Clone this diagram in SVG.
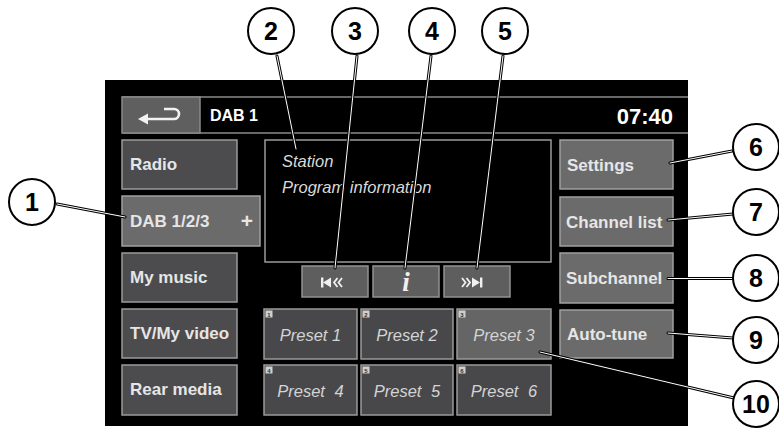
<svg xmlns="http://www.w3.org/2000/svg" width="779" height="429" viewBox="0 0 779 429">
<defs>
<style>
.btn{fill:#4c4c4e;stroke:#9a9a9a;stroke-width:1.5}
.btnl{fill:#6b6b6b;stroke:#a0a0a0;stroke-width:1.5}
.tb{fill:#5e5e5e;stroke:#929292;stroke-width:1.5}
.pre{fill:#48484b;stroke:#9a9a9a;stroke-width:1.5}
.lbl{font-family:"Liberation Sans",Arial,sans-serif;font-weight:bold;font-size:17px;fill:#e6e6e6}
.ptxt{font-family:"Liberation Sans",Arial,sans-serif;font-style:italic;font-size:16.5px;fill:#d4d4d4;text-anchor:middle}
.nb{fill:#cfcfcf}
.nt{font-family:"Liberation Sans",Arial,sans-serif;font-weight:bold;font-size:6px;fill:#333;text-anchor:middle}
.cc{fill:#fff;stroke:#000;stroke-width:2}
.ct{font-family:"Liberation Sans",Arial,sans-serif;font-weight:bold;font-size:25px;fill:#000;text-anchor:middle}
.lo{stroke:#000;stroke-width:3;fill:none;stroke-linecap:round}
.li{stroke:#fff;stroke-width:1;fill:none;stroke-linecap:round}
.ico{fill:#f0f0f0}
.chev{fill:none;stroke:#f0f0f0;stroke-width:1.8}
</style>
</defs>
<rect x="0" y="0" width="779" height="429" fill="#fff"/>
<g id="screen">
<rect x="105" y="80" width="583" height="346" fill="#000"/>
<line x1="122" y1="97" x2="688" y2="97" stroke="#8a8a8a" stroke-width="1.5"/>
<line x1="122" y1="133" x2="688" y2="133" stroke="#8a8a8a" stroke-width="1.5"/>
</g>
<g id="back">
<rect x="122" y="97" width="78" height="36" fill="#5f5f5f" stroke="#8a8a8a" stroke-width="1.5"/>
<path d="M146 119 H174 A5 5 0 0 0 174 109 H164" fill="none" stroke="#f2f2f2" stroke-width="2.6"/>
<polygon points="138,119 148,113.5 148,124.5" fill="#f2f2f2"/>
</g>
<g id="header">
<text x="210" y="121" class="lbl" style="font-size:16px;fill:#fff">DAB 1</text>
<text x="673" y="124" class="lbl" style="font-size:22px;fill:#fff" text-anchor="end">07:40</text>
</g>
<g id="node-radio"><rect x="122" y="140" width="115" height="49" class="btn"/><text x="130" y="170" class="lbl">Radio</text></g>
<g id="node-dab"><rect x="122" y="196" width="138" height="50" class="btnl"/><text x="130" y="227" class="lbl">DAB 1/2/3</text><text x="247" y="228" class="lbl" style="font-size:21px" text-anchor="middle">+</text></g>
<g id="node-music"><rect x="122" y="253" width="115" height="49" class="btn"/><text x="130" y="283" class="lbl">My music</text></g>
<g id="node-tv"><rect x="122" y="309" width="115" height="49" class="btn"/><text x="130" y="339" class="lbl">TV/My video</text></g>
<g id="node-rear"><rect x="122" y="365" width="115" height="50" class="btn"/><text x="130" y="395" class="lbl">Rear media</text></g>
<g id="node-display">
<rect x="265" y="140" width="286" height="122" fill="#000" stroke="#9a9a9a" stroke-width="1.5"/>
<text x="282" y="167" class="ptxt" style="text-anchor:start;fill:#dadada">Station</text>
<text x="282" y="193" class="ptxt" style="text-anchor:start;fill:#dadada">Program information</text>
</g>
<g id="node-prev"><rect x="302" y="266" width="66" height="31" class="tb"/>
<rect x="321" y="277.5" width="2.4" height="10" class="ico"/><polygon points="323,282.5 331,277.5 331,287.5" class="ico"/>
<polyline points="337.5,278 334,282.5 337.5,287" class="chev"/><polyline points="342,278 338.5,282.5 342,287" class="chev"/></g>
<g id="node-info"><rect x="373" y="266" width="66" height="31" class="tb"/>
<text x="406" y="291" style="font-family:'Liberation Serif',serif;font-style:italic;font-weight:bold;font-size:27px;fill:#f0f0f0" text-anchor="middle">i</text></g>
<g id="node-next"><rect x="444" y="266" width="66" height="31" class="tb"/>
<polyline points="462,278 465.5,282.5 462,287" class="chev"/><polyline points="466.5,278 470,282.5 466.5,287" class="chev"/>
<polygon points="480,282.5 472,277.5 472,287.5" class="ico"/><rect x="480" y="277.5" width="2.4" height="10" class="ico"/></g>
<g id="node-p1"><rect x="264" y="309" width="93" height="50" class="pre"/><rect x="265.5" y="310.5" width="7" height="7" class="nb"/><text x="269" y="316.5" class="nt">1</text><text x="310.5" y="341" class="ptxt">Preset 1</text></g>
<g id="node-p2"><rect x="361" y="309" width="92" height="50" class="pre"/><rect x="362.5" y="310.5" width="7" height="7" class="nb"/><text x="366" y="316.5" class="nt">2</text><text x="407" y="341" class="ptxt">Preset 2</text></g>
<g id="node-p3"><rect x="457" y="309" width="94" height="50" class="pre" style="fill:#656565"/><rect x="458.5" y="310.5" width="7" height="7" class="nb"/><text x="462" y="316.5" class="nt">3</text><text x="504" y="341" class="ptxt">Preset 3</text></g>
<g id="node-p4"><rect x="264" y="365" width="93" height="50" class="pre"/><rect x="265.5" y="366.5" width="7" height="7" class="nb"/><text x="269" y="372.5" class="nt">4</text><text x="310.5" y="397" class="ptxt" word-spacing="5">Preset 4</text></g>
<g id="node-p5"><rect x="361" y="365" width="92" height="50" class="pre"/><rect x="362.5" y="366.5" width="7" height="7" class="nb"/><text x="366" y="372.5" class="nt">5</text><text x="407" y="397" class="ptxt" word-spacing="5">Preset 5</text></g>
<g id="node-p6"><rect x="457" y="365" width="94" height="50" class="pre"/><rect x="458.5" y="366.5" width="7" height="7" class="nb"/><text x="462" y="372.5" class="nt">6</text><text x="504" y="397" class="ptxt" word-spacing="5">Preset 6</text></g>
<g id="node-settings"><rect x="560" y="140" width="113" height="49" class="btnl"/><text x="567" y="170.5" class="lbl">Settings</text></g>
<g id="node-channel"><rect x="560" y="197" width="113" height="49" class="btnl"/><text x="566" y="228" class="lbl">Channel list</text></g>
<g id="node-sub"><rect x="560" y="253" width="113" height="50" class="btnl"/><text x="566" y="284" class="lbl">Subchannel</text></g>
<g id="node-auto"><rect x="560" y="310" width="113" height="48" class="btnl"/><text x="567" y="340" class="lbl">Auto-tune</text></g>
<g id="connectors">
<path class="lo" d="M57 204 L125 217 M277 56 L296 149 M357 56 L335 268 M431 56 L405 268 M503 56 L477 268 M670 163 L732 151 M668 220 L733 214 M668 278.5 L733 278.5 M668 333 L733 338 M540 352 L734 398"/>
<path class="li" d="M57 204 L125 217 M277 56 L296 149 M357 56 L335 268 M431 56 L405 268 M503 56 L477 268 M670 163 L732 151 M668 220 L733 214 M668 278.5 L733 278.5 M668 333 L733 338 M540 352 L734 398"/>
</g>
<g id="callout-1"><circle cx="32" cy="202" r="23" class="cc"/><text x="32" y="211" class="ct">1</text></g>
<g id="callout-2"><circle cx="271" cy="31" r="23" class="cc"/><text x="271" y="40" class="ct">2</text></g>
<g id="callout-3"><circle cx="355" cy="31" r="23" class="cc"/><text x="355" y="40" class="ct">3</text></g>
<g id="callout-4"><circle cx="432" cy="31" r="23" class="cc"/><text x="432" y="40" class="ct">4</text></g>
<g id="callout-5"><circle cx="505" cy="31" r="23" class="cc"/><text x="505" y="40" class="ct">5</text></g>
<g id="callout-6"><circle cx="756" cy="147" r="23" class="cc"/><text x="756" y="156" class="ct">6</text></g>
<g id="callout-7"><circle cx="756" cy="212" r="23" class="cc"/><text x="756" y="221" class="ct">7</text></g>
<g id="callout-8"><circle cx="756" cy="278" r="23" class="cc"/><text x="756" y="287" class="ct">8</text></g>
<g id="callout-9"><circle cx="756" cy="340" r="23" class="cc"/><text x="756" y="349" class="ct">9</text></g>
<g id="callout-10"><circle cx="756" cy="404" r="23" class="cc"/><text x="756" y="413" class="ct">10</text></g>
</svg>
